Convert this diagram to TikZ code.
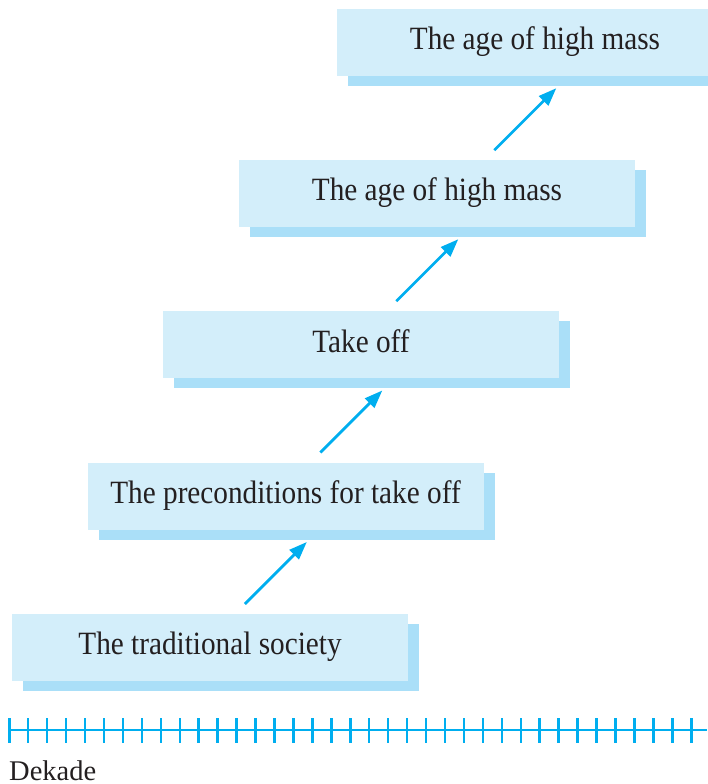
\documentclass[tikz,border=0pt]{standalone}
\usepackage{fontspec}
\setmainfont{Liberation Serif}
\newfontfamily\boxfont[FakeStretch=0.9]{Liberation Serif}
\usetikzlibrary{arrows.meta,shadows}
\definecolor{inkc}{HTML}{231F20}
\definecolor{cyanc}{HTML}{00AEEF}
\definecolor{boxc}{HTML}{D3EEFA}
\definecolor{shadc}{HTML}{AADFF8}
\tikzset{
  stage/.style={fill=boxc, minimum width=396pt, minimum height=67pt, inner sep=0pt,
    text height=22pt, text depth=7pt, text=inkc,
    font=\boxfont\fontsize{32.5}{36}\selectfont,
    drop shadow={shadow xshift=11pt, shadow yshift=-10pt, fill=shadc, opacity=1}},
  rise/.style={draw=cyanc, line width=2.8pt, -{Triangle[length=18pt,width=13pt]}},
  tickmark/.style={draw=cyanc, line width=2.5pt},
  axisline/.style={draw=cyanc, line width=2pt}
}
\begin{document}
\begin{tikzpicture}[x=1pt,y=1pt]
\useasboundingbox (0,0) rectangle (707,784);

% stages of growth
\node[stage] (b1) at (210,136.5) {The traditional society};
\node[stage] (b2) at (285.5,287.7) {The preconditions for take off};
\node[stage] (b3) at (361,439.2) {Take off};
\node[stage] (b4) at (437,590.5) {The age of high mass};
\node[stage] (b5) at (535,741.5) {The age of high mass};

% arrows leading up from one stage to the next
\foreach \src/\dst in {b1/b2, b2/b3, b3/b4, b4/b5}{
  \coordinate (tip-\dst) at ([shift={(219.5pt,-12pt)}]\dst.south west);
  \draw[rise] ([shift={(-62pt,-62pt)}]tip-\dst) -- (tip-\dst);
}

% time axis in decades
\draw[axisline] (8,54) coordinate (ax0) -- (707,54) coordinate (ax1);
\foreach \i in {0,...,36}
  \draw[tickmark] (9.3+18.944*\i,41.3) -- ++(0,24.7);
\node[anchor=base west, inner sep=0pt, text=inkc, font=\fontsize{28.5}{30}\selectfont] (dek) at (9,3.3) {Dekade};
\end{tikzpicture}
\end{document}
